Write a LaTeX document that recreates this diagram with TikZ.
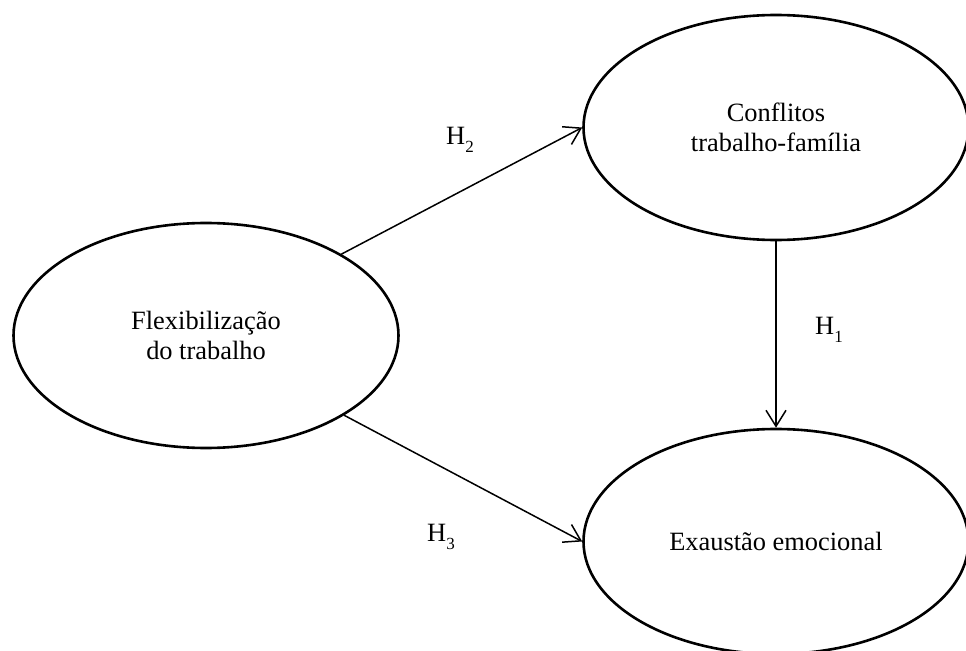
\documentclass[tikz,border=0pt]{standalone}
\usepackage{fontspec}
\setmainfont{Liberation Serif}
\usetikzlibrary{shapes.geometric,arrows.meta}
\newcommand{\hlabel}[1]{H\raisebox{-4pt}{\fontsize{8.5}{10}\selectfont #1}}
\tikzset{
  construct/.style={draw, ellipse, line width=1.3pt, minimum width=192.5pt, minimum height=112.5pt, inner sep=0pt, align=center, font=\fontsize{13.2}{15.2}\selectfont},
  path arrow/.style={line width=0.75pt, -{Straight Barb[length=8pt,width=10pt]}},
  hyp/.style={font=\fontsize{13.2}{15.2}\selectfont, inner sep=0pt}
}
\begin{document}
\begin{tikzpicture}[x=0.5pt,y=0.5pt]
\useasboundingbox (0,0) rectangle (966,650);

% nodes
\node[construct] (flex) at (206,314.5) {Flexibilização\\do trabalho};
\node[construct] (conf) at (776,522.5) {Conflitos\\trabalho-família};
\node[construct] (exh) at (776,108.5) {Exaustão emocional};

% arrows
\draw[path arrow] (flex.31) -- (conf.west);
\draw[path arrow] (flex.-30) -- (exh.west);
\draw[path arrow] (conf.south) -- (exh.north);

% labels
\node[hyp] (h2) at (460,510) {\hlabel{2}};
\node[hyp] (h3) at (441,113) {\hlabel{3}};
\node[hyp] (h1) at (829,320) {\hlabel{1}};

\end{tikzpicture}
\end{document}
